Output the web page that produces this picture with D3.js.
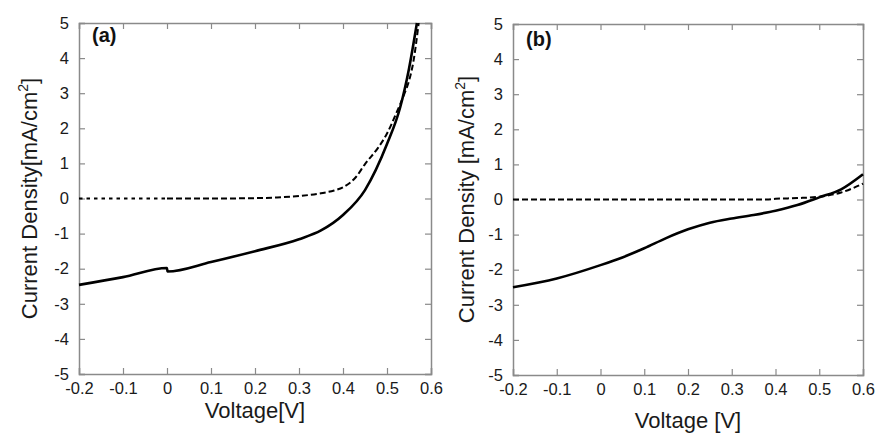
<!DOCTYPE html>
<html>
<head>
<meta charset="utf-8">
<script src="https://cdnjs.cloudflare.com/ajax/libs/d3/7.8.5/d3.min.js"></script>
<style>
  body { margin: 0; background: #fff; }
  svg { display: block; font-family: "Liberation Sans", Arial, sans-serif; }
</style>
</head>
<body>
<script>
// tick values
var xTicks = [-0.2, -0.1, 0, 0.1, 0.2, 0.3, 0.4, 0.5, 0.6];
var yTicks = [-5, -4, -3, -2, -1, 0, 1, 2, 3, 4, 5];

// panel (a): [voltage, current density]
var aSolid = [[-0.2, -2.46], [-0.1, -2.24], [0, -1.98], [0.001, -2.08], [0.1, -1.81], [0.2, -1.5],
  [0.3, -1.16], [0.35, -0.91], [0.4, -0.47], [0.45, 0.24], [0.5, 1.55], [0.53, 2.6],
  [0.55, 3.7], [0.568, 5.0]];
var aDotted = [[-0.2, 0], [0, 0]];
var aDashed = [[0, 0], [0.1, 0], [0.2, 0.01], [0.25, 0.03], [0.3, 0.07], [0.35, 0.15],
  [0.38, 0.23], [0.4, 0.32], [0.43, 0.62], [0.45, 0.98], [0.48, 1.45], [0.5, 1.85],
  [0.52, 2.4], [0.54, 3.0], [0.55, 3.35], [0.56, 3.9], [0.572, 5.0]];

// panel (b)
var bSolid = [[-0.2, -2.5], [-0.1, -2.25], [0, -1.87], [0.05, -1.65], [0.1, -1.39], [0.15, -1.1],
  [0.2, -0.85], [0.25, -0.66], [0.3, -0.54], [0.35, -0.44], [0.4, -0.32], [0.45, -0.16],
  [0.5, 0.06], [0.55, 0.29], [0.6, 0.72]];
var bDashed = [[-0.2, 0], [0.38, 0], [0.4, 0.02], [0.45, 0.04], [0.5, 0.08], [0.55, 0.2], [0.6, 0.45]];

var svg = d3.select("body").append("svg").attr("width", 877).attr("height", 434);

function panel(o) {
  var x = d3.scaleLinear().domain([-0.2, 0.6]).range([o.left, o.right]);
  var y = d3.scaleLinear().domain([-5, 5]).range([o.bottom, o.top]);
  var g = svg.append("g");
  // plain hyphen minus like the original figure
  var fmt = function(d) { return String(+d.toFixed(1)); };

  g.append("g").attr("transform", "translate(0," + o.bottom + ")")
    .call(d3.axisBottom(x).tickValues(xTicks).tickSize(-6).tickPadding(8).tickFormat(fmt));
  g.append("g").attr("transform", "translate(0," + o.top + ")")
    .call(d3.axisTop(x).tickValues(xTicks).tickSize(-6).tickFormat(""));
  g.append("g").attr("transform", "translate(" + o.left + ",0)")
    .call(d3.axisLeft(y).tickValues(yTicks).tickSize(-6).tickPadding(o.pad).tickFormat(fmt));
  g.append("g").attr("transform", "translate(" + o.right + ",0)")
    .call(d3.axisRight(y).tickValues(yTicks).tickSize(-6).tickFormat(""));

  g.selectAll(".domain").attr("stroke", "#8a8a8a").attr("stroke-width", 1.5);
  g.selectAll(".tick line").attr("stroke", "#8a8a8a").attr("stroke-width", 1.2);
  g.selectAll(".tick text").attr("font-size", 16.5).attr("fill", "#1a1a1a")
    .attr("font-family", "Liberation Sans, Arial, sans-serif");

  var line = d3.line().curve(d3.curveMonotoneX)
    .x(function(d) { return x(d[0]); }).y(function(d) { return y(d[1]); });
  o.series.forEach(function(s) {
    g.append("path").datum(s.data).attr("d", line).attr("fill", "none")
      .attr("stroke", "#000").attr("stroke-width", s.w)
      .attr("stroke-dasharray", s.dash || null);
  });

  var yl = g.append("text")
    .attr("transform", "translate(" + o.ylx + "," + ((o.top + o.bottom) / 2) + ") rotate(-90)")
    .attr("text-anchor", "middle").attr("font-size", 22).attr("fill", "#1a1a1a");
  yl.append("tspan").text(o.ylabel);
  yl.append("tspan").attr("font-size", 14).attr("dy", -9).text("2");
  yl.append("tspan").attr("dy", 9).text("]");

  g.append("text").attr("x", (o.left + o.right) / 2).attr("y", o.xly)
    .attr("text-anchor", "middle").attr("font-size", 22).attr("fill", "#1a1a1a")
    .text(o.xlabel);

  g.append("text").attr("x", o.left + o.tagDx).attr("y", o.top + o.tagDy)
    .attr("font-size", 20).attr("font-weight", "bold").attr("fill", "#111").text(o.tag);
}

panel({
  left: 79, right: 431, top: 23, bottom: 374, pad: 10,
  ylx: 37, xly: 418, tagDx: 13, tagDy: 19, tag: "(a)",
  ylabel: "Current Density[mA/cm", xlabel: "Voltage[V]",
  series: [
    { data: aSolid, w: 2.6 },
    { data: aDotted, w: 2, dash: "3.5,4" },
    { data: aDashed, w: 2, dash: "6,3" }
  ]
});

panel({
  left: 513, right: 863, top: 24, bottom: 375, pad: 10,
  ylx: 474, xly: 428, tagDx: 13, tagDy: 22, tag: "(b)",
  ylabel: "Current Density [mA/cm", xlabel: "Voltage [V]",
  series: [
    { data: bSolid, w: 2.6 },
    { data: bDashed, w: 2, dash: "6,3" }
  ]
});
</script>
</body>
</html>
